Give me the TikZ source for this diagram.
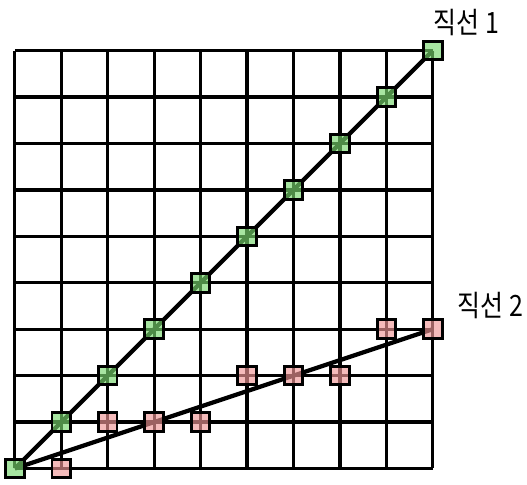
\documentclass[tikz,border=0pt]{standalone}
\usepackage{fontspec}
\newfontfamily\korfont{Noto Sans CJK KR}
\usetikzlibrary{backgrounds}

\definecolor{ptgreen}{RGB}{120,215,110}
\definecolor{ptred}{RGB}{240,150,150}

\begin{document}
\begin{tikzpicture}[x=1cm,y=1cm]
                    \useasboundingbox (-0.32,-0.34) rectangle (11.03,10.09);
                    % points on line 1
                    \node[rectangle, draw, line width=1.8pt, fill=ptgreen, fill opacity=0.65, minimum size=0.4cm, inner sep=0pt] (g0) at (0, 0) {};
                    \node[rectangle, draw, line width=1.8pt, fill=ptgreen, fill opacity=0.65, minimum size=0.4cm, inner sep=0pt] (g1) at (1, 1) {};
                    \node[rectangle, draw, line width=1.8pt, fill=ptgreen, fill opacity=0.65, minimum size=0.4cm, inner sep=0pt] (g2) at (2, 2) {};
                    \node[rectangle, draw, line width=1.8pt, fill=ptgreen, fill opacity=0.65, minimum size=0.4cm, inner sep=0pt] (g3) at (3, 3) {};
                    \node[rectangle, draw, line width=1.8pt, fill=ptgreen, fill opacity=0.65, minimum size=0.4cm, inner sep=0pt] (g4) at (4, 4) {};
                    \node[rectangle, draw, line width=1.8pt, fill=ptgreen, fill opacity=0.65, minimum size=0.4cm, inner sep=0pt] (g5) at (5, 5) {};
                    \node[rectangle, draw, line width=1.8pt, fill=ptgreen, fill opacity=0.65, minimum size=0.4cm, inner sep=0pt] (g6) at (6, 6) {};
                    \node[rectangle, draw, line width=1.8pt, fill=ptgreen, fill opacity=0.65, minimum size=0.4cm, inner sep=0pt] (g7) at (7, 7) {};
                    \node[rectangle, draw, line width=1.8pt, fill=ptgreen, fill opacity=0.65, minimum size=0.4cm, inner sep=0pt] (g8) at (8, 8) {};
                    \node[rectangle, draw, line width=1.8pt, fill=ptgreen, fill opacity=0.65, minimum size=0.4cm, inner sep=0pt] (g9) at (9, 9) {};
                    % points on line 2
                    \node[rectangle, draw, line width=1.8pt, fill=ptred, fill opacity=0.65, minimum size=0.4cm, inner sep=0pt] (r1) at (1, 0) {};
                    \node[rectangle, draw, line width=1.8pt, fill=ptred, fill opacity=0.65, minimum size=0.4cm, inner sep=0pt] (r2) at (2, 1) {};
                    \node[rectangle, draw, line width=1.8pt, fill=ptred, fill opacity=0.65, minimum size=0.4cm, inner sep=0pt] (r3) at (3, 1) {};
                    \node[rectangle, draw, line width=1.8pt, fill=ptred, fill opacity=0.65, minimum size=0.4cm, inner sep=0pt] (r4) at (4, 1) {};
                    \node[rectangle, draw, line width=1.8pt, fill=ptred, fill opacity=0.65, minimum size=0.4cm, inner sep=0pt] (r5) at (5, 2) {};
                    \node[rectangle, draw, line width=1.8pt, fill=ptred, fill opacity=0.65, minimum size=0.4cm, inner sep=0pt] (r6) at (6, 2) {};
                    \node[rectangle, draw, line width=1.8pt, fill=ptred, fill opacity=0.65, minimum size=0.4cm, inner sep=0pt] (r7) at (7, 2) {};
                    \node[rectangle, draw, line width=1.8pt, fill=ptred, fill opacity=0.65, minimum size=0.4cm, inner sep=0pt] (r8) at (8, 3) {};
                    \node[rectangle, draw, line width=1.8pt, fill=ptred, fill opacity=0.65, minimum size=0.4cm, inner sep=0pt] (r9) at (9, 3) {};
                    % labels
                    \node[xscale=0.85, font=\korfont\fontsize{18}{21}\selectfont] (l1) at (9.72, 9.61) {직선 1};
                    \node[xscale=0.85, font=\korfont\fontsize{18}{21}\selectfont] (l2) at (10.24, 3.5) {직선 2};
                    \begin{scope}[on background layer]
                    \draw[line width=2pt] (0, 0) grid (9, 9);
                    \draw[line width=2.6pt] (g0.center) -- (g9.center);
                    \draw[line width=2.6pt] (g0.center) -- (r9.center);
                    \end{scope}
                \end{tikzpicture}
\end{document}
